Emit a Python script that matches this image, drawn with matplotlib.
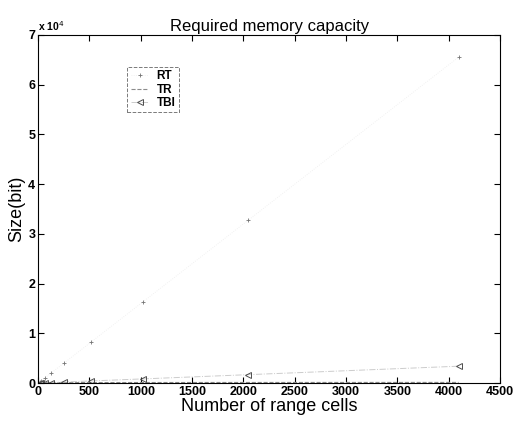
import matplotlib
matplotlib.use("Agg")
import matplotlib.pyplot as plt
import numpy as np

plt.rcParams['font.family'] = ['Liberation Sans', 'DejaVu Sans']

# range cells (powers of two) and memory needed per scheme, in bits
cells = [16, 32, 64, 128, 256, 512, 1024, 2048, 4096]
rt_bits = [256, 512, 1024, 2048, 4096, 8192, 16384, 32768, 65536]
tr_bits = [60, 70, 80, 90, 100, 110, 120, 130, 140]
tbi_bits = [14, 28, 55, 110, 215, 430, 850, 1700, 3400]

xticks = [0, 500, 1000, 1500, 2000, 2500, 3000, 3500, 4000, 4500]
yticks = [0, 10000, 20000, 30000, 40000, 50000, 60000, 70000]

fig = plt.figure(figsize=(5.15, 4.21), dpi=100)
ax = fig.add_axes([0.074, 0.090, 0.897, 0.827])

# the scanned figure shows the lines very faintly, mostly only the markers
ax.plot(cells, rt_bits, linestyle=':', color='0.93', linewidth=0.6,
        marker='+', markersize=3.5, markeredgewidth=0.6,
        markeredgecolor='0.45', label='RT')
ax.plot(cells, tr_bits, linestyle='--', color='0.55', linewidth=0.8,
        label='TR')
ax.plot(cells, tbi_bits, linestyle='-.', color='0.8', linewidth=0.7,
        marker='<', markersize=4, markerfacecolor='none',
        markeredgewidth=0.7, markeredgecolor='0.3', label='TBI')

ax.set_xlim(0, 4500)
ax.set_ylim(0, 70000)
ax.set_xticks(xticks)
ax.set_yticks(yticks)
ax.set_xticklabels([str(v) for v in xticks], fontsize=9, fontweight='bold')
ax.set_yticklabels([str(v // 10000) for v in yticks], fontsize=9, fontweight='bold')
ax.tick_params(direction='in', top=True, right=True, length=4, width=0.8, pad=2)
for s in ax.spines.values():
    s.set_linewidth(0.8)

ax.text(0.0, 1.005, 'x 10$^4$', transform=ax.transAxes, fontsize=7.5,
        fontweight='bold', ha='left', va='bottom')

ax.set_title('Required memory capacity', fontsize=12, pad=3)
ax.set_xlabel('Number of range cells', fontsize=13, labelpad=0)
ax.set_ylabel('Size(bit)', fontsize=13, labelpad=2)

leg = ax.legend(loc='upper left', bbox_to_anchor=(0.18, 0.925), fontsize=8.5,
                frameon=True, fancybox=False, edgecolor='0.35',
                handlelength=1.5, borderpad=0.3, labelspacing=0.1,
                handletextpad=0.7)
leg.get_frame().set_linewidth(0.7)
leg.get_frame().set_linestyle('--')
for t in leg.get_texts():
    t.set_fontweight('bold')

fig.savefig('out.png', dpi=100)
